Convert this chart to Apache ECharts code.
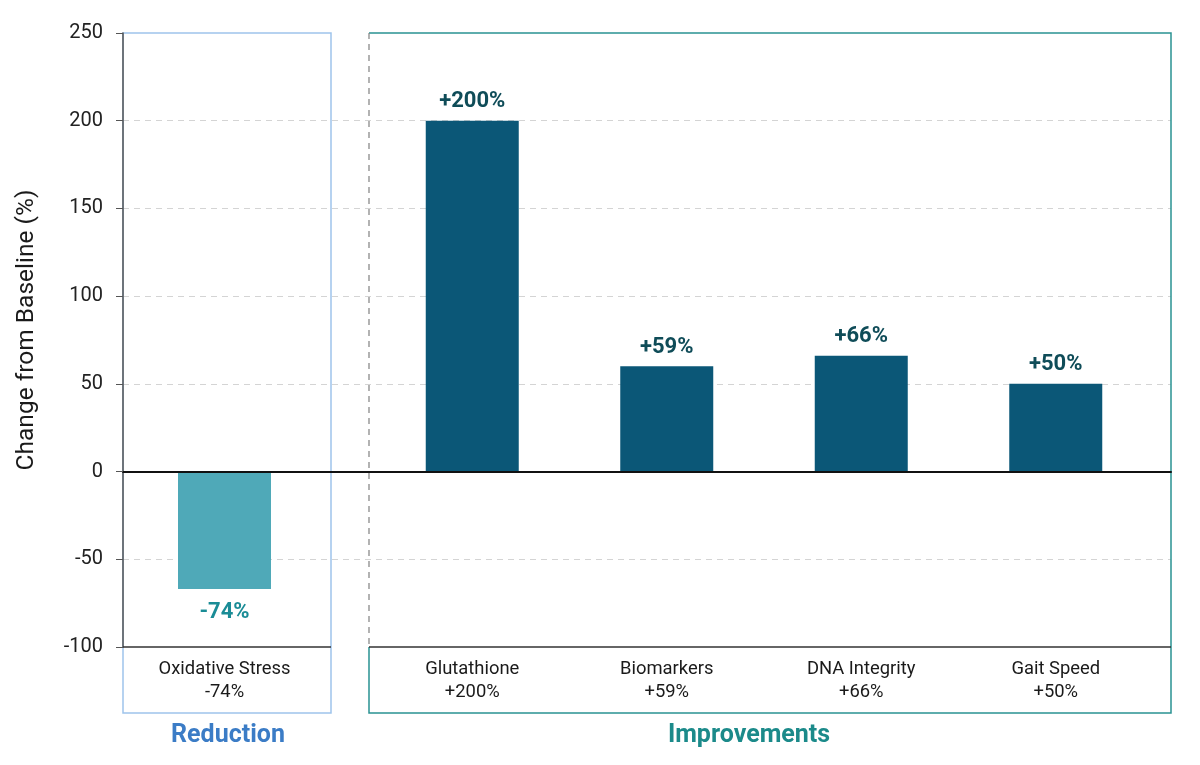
<!DOCTYPE html>
<html>
<head>
<meta charset="utf-8">
<script src="https://cdn.jsdelivr.net/npm/echarts@6/dist/echarts.min.js"></script>
<style>
html,body{margin:0;padding:0;background:#fff;}
#chart{width:1200px;height:765px;}
</style>
</head>
<body>
<div id="chart"></div>
<script>
// ---- data ----
const groupNames = ['Reduction', 'Improvements'];
const reductionCategories = ['Oxidative Stress'];
const reductionValues = [-67];
const reductionLabels = ['-74%'];
const improvementCategories = ['Glutathione', 'Biomarkers', 'DNA Integrity', 'Gait Speed'];
const improvementValues = [200, 60, 66, 50];
const improvementLabels = ['+200%', '+59%', '+66%', '+50%'];
const yMin = -100, yMax = 250, yStep = 50;
const yTitle = 'Change from Baseline (%)';

// ---- layout ----
const FONT = 'Roboto, "Noto Sans", sans-serif';
const plotTop = 33, plotBottomY = 647, boxBottom = 713;
const leftBox = {x0: 123, x1: 331};
const rightBox = {x0: 369, x1: 1171};

const chart = echarts.init(document.getElementById('chart'));

function catAxis(gridIndex, cats, labels) {
  return {
    type: 'category', gridIndex: gridIndex, data: cats,
    axisLine: {show: false}, axisTick: {show: false},
    axisLabel: {
      margin: 11, color: '#1a1a1a', fontFamily: FONT, fontSize: 18.4, lineHeight: 23,
      formatter: function (v, i) { return v + '\n' + labels[i]; }
    }
  };
}
// splitLine colours per tick: hide at -100, 0, 250
const splitColors = [];
for (let v = yMin; v <= yMax; v += yStep) {
  splitColors.push((v === yMin || v === 0 || v === yMax) ? 'rgba(0,0,0,0)' : '#d4d4d4');
}

const option = {
  backgroundColor: '#ffffff',
  animation: false,
  grid: [
    {left: leftBox.x0, right: 1200 - rightBox.x1, top: plotTop, bottom: 765 - plotBottomY},
    {left: 123, width: 203, top: plotTop, bottom: 765 - plotBottomY},
    {left: 375, width: 778, top: plotTop, bottom: 765 - plotBottomY}
  ],
  xAxis: [
    {type: 'value', gridIndex: 0, min: 0, max: 1, z: 10,
     axisLine: {show: true, onZero: true, lineStyle: {color: '#111', width: 2}},
     axisTick: {show: false}, axisLabel: {show: false}, splitLine: {show: false}},
    catAxis(1, reductionCategories, reductionLabels),
    catAxis(2, improvementCategories, improvementLabels)
  ],
  yAxis: [
    // background grid: dashed split lines only (behind bars)
    {type: 'value', gridIndex: 0, min: yMin, max: yMax, interval: yStep, z: 0,
     axisLine: {show: false}, axisTick: {show: false}, axisLabel: {show: false},
     splitLine: {show: true, lineStyle: {color: splitColors, type: [6, 5], width: 1}}},
    // visible y axis (line, ticks, labels) on top
    {type: 'value', gridIndex: 1, min: yMin, max: yMax, interval: yStep, z: 10,
     axisLine: {show: true, onZero: false, lineStyle: {color: '#555', width: 1.5}},
     axisTick: {show: true, length: 7, lineStyle: {color: '#555', width: 1}},
     axisLabel: {margin: 20, color: '#222', fontFamily: FONT, fontSize: 20},
     splitLine: {show: false}},
    {type: 'value', gridIndex: 2, min: yMin, max: yMax, interval: yStep, show: false}
  ],
  series: [
    {type: 'bar', xAxisIndex: 1, yAxisIndex: 1, data: reductionValues, barWidth: 93, z: 3,
     itemStyle: {color: '#4FA9B8'},
     label: {show: true, position: 'bottom', distance: 12, fontFamily: FONT, fontSize: 22, fontWeight: 'bold',
             color: '#1A8C96', formatter: function (p) { return reductionLabels[p.dataIndex]; }}},
    {type: 'bar', xAxisIndex: 2, yAxisIndex: 2, data: improvementValues, barWidth: 93, z: 3,
     itemStyle: {color: '#0B5777'},
     label: {show: true, position: 'top', distance: 8, fontFamily: FONT, fontSize: 22, fontWeight: 'bold',
             color: '#0F4C58', formatter: function (p) { return improvementLabels[p.dataIndex]; }}}
  ],
  graphic: [
    {type: 'rect', z: 1, silent: true,
     shape: {x: leftBox.x0, y: plotTop, width: leftBox.x1 - leftBox.x0, height: boxBottom - plotTop},
     style: {fill: 'none', stroke: '#9EC4EC', lineWidth: 1.5}},
    {type: 'polyline', z: 1, silent: true,
     shape: {points: [[rightBox.x0, plotBottomY], [rightBox.x0, boxBottom], [rightBox.x1, boxBottom],
                      [rightBox.x1, plotTop], [rightBox.x0, plotTop]]},
     style: {fill: 'none', stroke: '#2A9292', lineWidth: 1.5}},
    {type: 'line', z: 1, silent: true,
     shape: {x1: rightBox.x0, y1: plotTop, x2: rightBox.x0, y2: plotBottomY},
     style: {stroke: '#808080', lineWidth: 1.2, lineDash: [6, 5]}},
    {type: 'line', z: 12, silent: true,
     shape: {x1: leftBox.x0, y1: plotBottomY, x2: leftBox.x1, y2: plotBottomY},
     style: {stroke: '#333', lineWidth: 1.5}},
    {type: 'line', z: 12, silent: true,
     shape: {x1: rightBox.x0, y1: plotBottomY, x2: rightBox.x1, y2: plotBottomY},
     style: {stroke: '#333', lineWidth: 1.5}},
    {type: 'text', z: 5, silent: true, x: 228, y: 736,
     style: {text: groupNames[0], fill: '#3B7CC6', font: 'bold 25px ' + FONT, textAlign: 'center', textVerticalAlign: 'middle'}},
    {type: 'text', z: 5, silent: true, x: 749, y: 736,
     style: {text: groupNames[1], fill: '#1B8A8A', font: 'bold 25px ' + FONT, textAlign: 'center', textVerticalAlign: 'middle'}},
    {type: 'text', z: 5, silent: true, x: 27, y: 330, rotation: Math.PI / 2,
     style: {text: yTitle, fill: '#1a1a1a', font: '24.5px ' + FONT, textAlign: 'center', textVerticalAlign: 'middle'}}
  ]
};
chart.setOption(option);
</script>
</body>
</html>
